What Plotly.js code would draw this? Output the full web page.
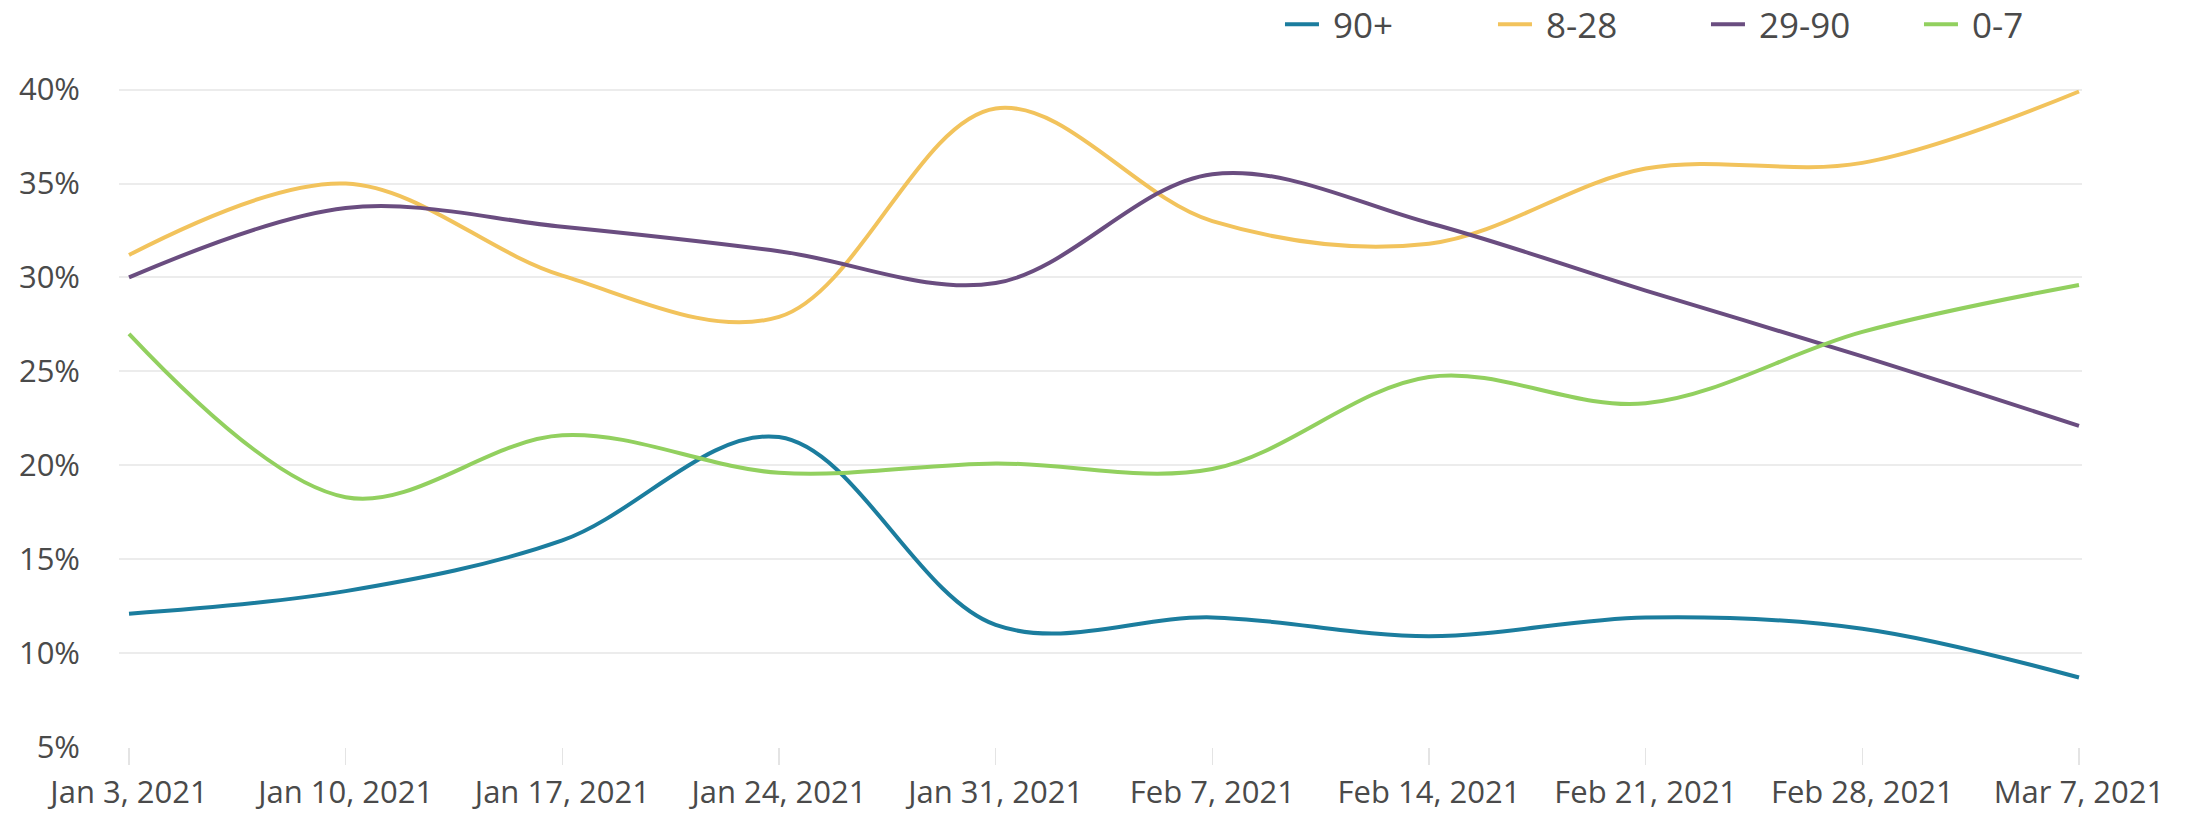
<!DOCTYPE html>
<html>
<head>
<meta charset="utf-8">
<script src="https://cdn.plot.ly/plotly-3.0.1.min.js"></script>
<style>
  html, body { margin: 0; padding: 0; background: #ffffff; }
  #chart { width: 2188px; height: 813px; }
</style>
</head>
<body>
<div id="chart"></div>
<script>
// Weekly share of items by age bucket (days)
const weeks = ['2021-01-03', '2021-01-10', '2021-01-17', '2021-01-24', '2021-01-31',
               '2021-02-07', '2021-02-14', '2021-02-21', '2021-02-28', '2021-03-07'];

const age90plus = [0.121, 0.133, 0.160, 0.215, 0.115, 0.119, 0.109, 0.119, 0.113, 0.087];
const age8to28  = [0.312, 0.350, 0.301, 0.279, 0.390, 0.330, 0.318, 0.358, 0.361, 0.399];
const age29to90 = [0.300, 0.337, 0.327, 0.314, 0.297, 0.355, 0.329, 0.293, 0.258, 0.221];
const age0to7   = [0.270, 0.183, 0.216, 0.196, 0.201, 0.198, 0.247, 0.233, 0.271, 0.296];

const seriesNames  = ['90+', '8-28', '29-90', '0-7'];
const seriesColors = ['#1b7d9e', '#f2c35c', '#6a4d80', '#92d05f'];
const seriesValues = [age90plus, age8to28, age29to90, age0to7];

const yTickVals = [0.05, 0.10, 0.15, 0.20, 0.25, 0.30, 0.35, 0.40];

// a non-breaking space keeps a little air between each swatch and its label
const traces = seriesNames.map((name, i) => ({
  type: 'scatter',
  mode: 'lines',
  name: '\u00a0' + name,
  x: weeks,
  y: seriesValues[i],
  line: { color: seriesColors[i], width: 4, shape: 'spline', smoothing: 1 },
  hovertemplate: '%{y:.0%}<extra>' + name + '</extra>'
}));

const font = { family: '"Open Sans", "Noto Sans", sans-serif', color: '#4a4a4a' };

const layout = {
  width: 2188,
  height: 813,
  paper_bgcolor: '#ffffff',
  plot_bgcolor: '#ffffff',
  margin: { l: 119, r: 106, t: 84, b: 66 },
  font: Object.assign({ size: 31 }, font),
  showlegend: true,
  legend: {
    orientation: 'h',
    x: 0.585, xanchor: 'left',
    xref: 'container',
    y: 0.970, yanchor: 'middle',
    yref: 'container',
    font: Object.assign({ size: 35 }, font),
    entrywidth: 164,
    entrywidthmode: 'pixels',
    itemwidth: 34,
    bgcolor: 'rgba(0,0,0,0)'
  },
  xaxis: {
    type: 'date',
    range: ['2021-01-02 16:15', '2021-03-07 02:20'],
    tickvals: weeks,
    tickformat: '%b %-d, %Y',
    ticks: 'outside',
    ticklen: 17,
    tickwidth: 1.5,
    tickcolor: '#e4e4e4',
    showgrid: false,
    showline: false,
    zeroline: false,
    tickfont: Object.assign({ size: 31 }, font),
    ticklabelstandoff: 1
  },
  yaxis: {
    range: [0.05, 0.403],
    tickvals: yTickVals,
    tickformat: '.0%',
    showgrid: true,
    gridcolor: '#ececec',
    gridwidth: 2,
    zeroline: false,
    showline: false,
    ticks: '',
    tickfont: Object.assign({ size: 31 }, font),
    ticklabelstandoff: 38
  }
};

Plotly.newPlot('chart', traces, layout, { displayModeBar: false, staticPlot: true });
</script>
</body>
</html>
